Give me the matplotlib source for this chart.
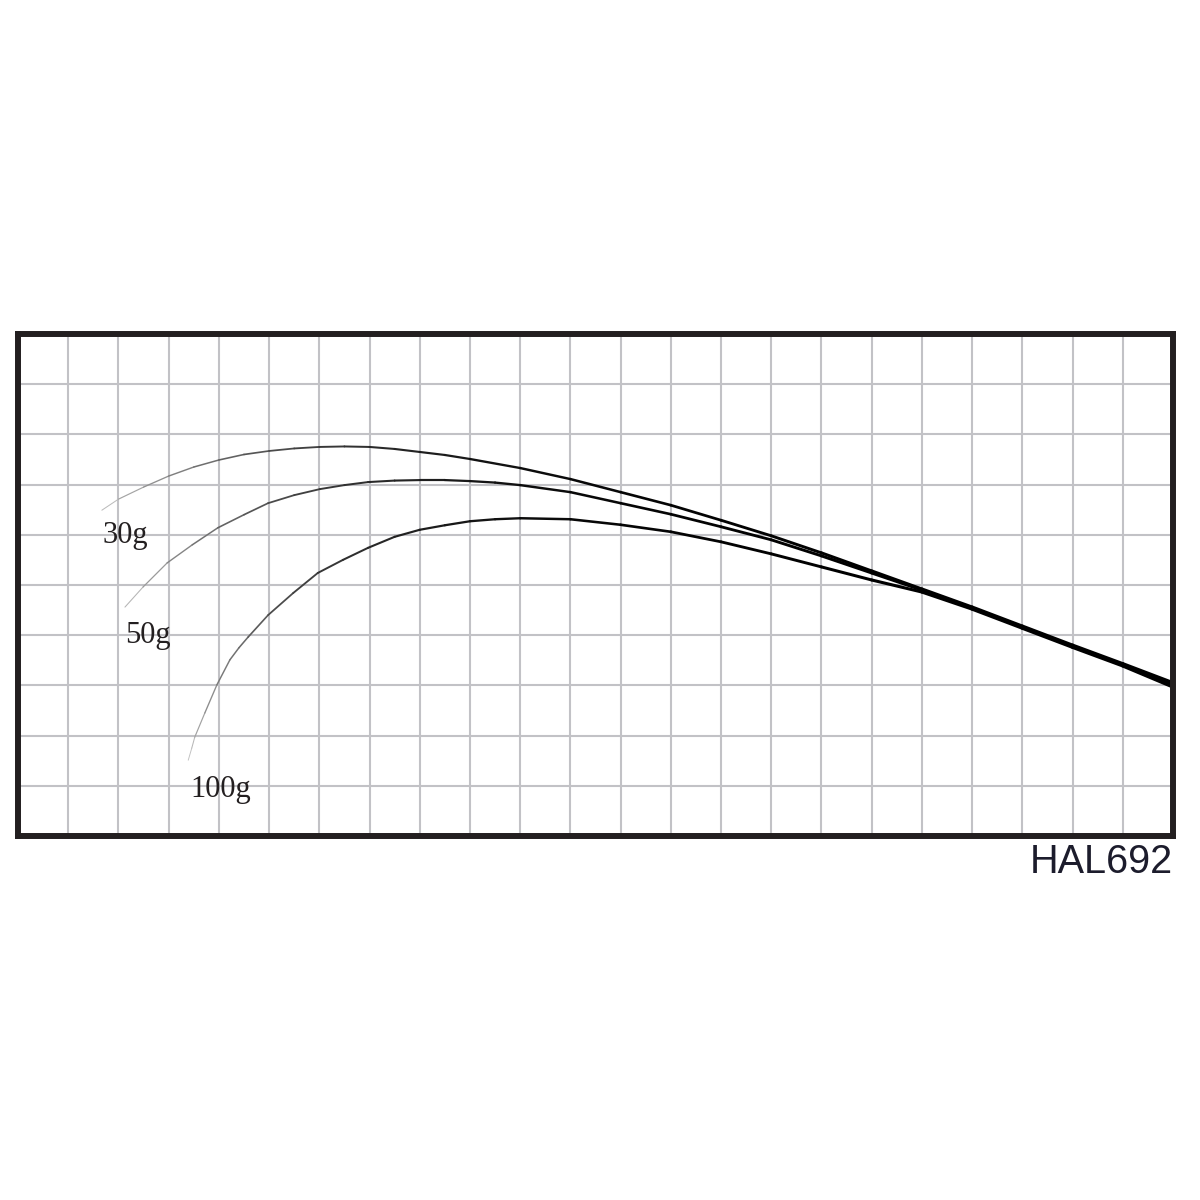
import numpy as np
import matplotlib
matplotlib.use("Agg")
import matplotlib.pyplot as plt
from matplotlib.collections import LineCollection

# rod bend curves, read in grid units (23 x 10 cells, y up from bottom)
x_30g = [1.67, 2.0, 2.5, 3.0, 3.5, 4.0, 4.5, 5.0, 5.5, 6.0, 6.5, 7.0, 7.5, 8.0, 8.5,
         9.0, 10.0, 11.0, 12.0, 13.0, 14.0, 15.0, 16.0, 17.0, 18.0, 19.0, 20.0,
         21.0, 22.0, 23.0]
y_30g = [6.49, 6.71, 6.95, 7.17, 7.35, 7.49, 7.60, 7.67, 7.72, 7.75, 7.76, 7.75, 7.71,
         7.65, 7.59, 7.51, 7.33, 7.11, 6.85, 6.59, 6.29, 5.98, 5.64, 5.28, 4.92,
         4.56, 4.18, 3.80, 3.43, 3.05]

x_50g = [2.13, 2.49, 2.97, 3.47, 3.98, 4.5, 4.98, 5.5, 6.01, 6.5, 6.97, 7.5, 8.0,
         8.5, 9.0, 9.5, 10.0, 11.0, 12.0, 13.0, 14.0, 15.0, 16.0, 17.0, 18.0, 19.0,
         20.0, 21.0, 22.0, 23.0]
y_50g = [4.56, 4.96, 5.44, 5.80, 6.14, 6.40, 6.63, 6.79, 6.91, 6.99, 7.05, 7.08, 7.09,
         7.09, 7.07, 7.04, 6.99, 6.85, 6.63, 6.41, 6.16, 5.90, 5.58, 5.24, 4.90, 4.54,
         4.16, 3.78, 3.41, 3.01]

x_100g = [3.39, 3.46, 3.52, 3.72, 3.96, 4.22, 4.4, 4.58, 4.98, 5.48, 5.97, 6.47, 6.97,
          7.5, 8.0, 8.5, 9.0, 9.5, 10.0, 11.0, 12.0, 13.0, 14.0, 15.0, 16.0, 17.0,
          18.0, 19.0, 20.0, 21.0, 22.0, 23.0]
y_100g = [1.51, 1.75, 1.97, 2.45, 3.01, 3.51, 3.75, 3.96, 4.40, 4.84, 5.24, 5.50, 5.74,
          5.96, 6.10, 6.19, 6.27, 6.31, 6.33, 6.31, 6.20, 6.06, 5.86, 5.62, 5.36, 5.10,
          4.86, 4.52, 4.14, 3.76, 3.39, 2.97]

labels = ["30g", "50g", "100g"]
label_pos = [(1.69, 5.84), (2.13, 3.84), (3.44, 0.78)]
model_name = "HAL692"

n_cols, n_rows = 23, 10
ink = "#231f20"


def tapered_line(ax, xs, ys):
    pts = np.column_stack([xs, ys])
    segs = np.stack([pts[:-1], pts[1:]], axis=1)
    step = np.hypot(np.diff(xs), np.diff(ys))
    t = np.cumsum(step) / step.sum()
    grey = 0.8 * (1 - t) ** 5
    colors = [(g, g, g) for g in grey]
    widths = 0.5 + 2.0 * t ** 0.55
    lc = LineCollection(segs, colors=colors, linewidths=widths,
                        capstyle="round", joinstyle="round", zorder=3)
    ax.add_collection(lc)


fig = plt.figure(figsize=(12, 12), dpi=100)
ax = fig.add_axes([18 / 1200, 1 - 836 / 1200, 1155 / 1200, 502 / 1200])
ax.set_xlim(0, n_cols)
ax.set_ylim(0, n_rows)
ax.set_xticks(range(n_cols + 1))
ax.set_yticks(range(n_rows + 1))
ax.tick_params(length=0, labelbottom=False, labelleft=False)
ax.grid(True, color="#c2c2c6", linewidth=1.5)
ax.set_axisbelow(True)
for sp in ax.spines.values():
    sp.set_linewidth(4.3)
    sp.set_color(ink)
    sp.set_zorder(4)

for xs, ys in [(x_30g, y_30g), (x_50g, y_50g), (x_100g, y_100g)]:
    tapered_line(ax, xs, ys)

for lab, (lx, ly) in zip(labels, label_pos):
    ax.text(lx, ly, lab, fontsize=22, family="Liberation Serif", color=ink,
            ha="left", va="baseline", zorder=5)

ax.text(n_cols, -0.737, model_name, fontsize=28.5, family="Liberation Sans",
        color="#1c1c2c", ha="right", va="baseline", clip_on=False)

fig.savefig("out.png", dpi=100, facecolor="white")
